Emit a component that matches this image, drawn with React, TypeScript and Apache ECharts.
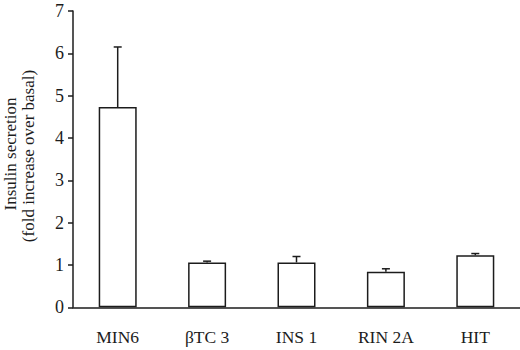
import React, { useEffect, useRef } from "react";
import * as echarts from "echarts";

const categories = ["MIN6", "βTC 3", "INS 1", "RIN 2A", "HIT"];
const means = [4.73, 1.06, 1.06, 0.84, 1.23];
const errTops = [6.15, 1.09, 1.2, 0.91, 1.27];
const yTicks = [0, 7, 1];
const yTitle = ["Insulin secretion", "(fold increase over basal)"];

export default function App() {
  const ref = useRef<HTMLDivElement>(null);
  useEffect(() => {
    document.body.style.margin = "0";
    const chart = echarts.init(ref.current!, null, { renderer: "svg" });
    const font = "'Liberation Serif', 'Times New Roman', serif";
    const ink = "#1c1c1c";
    chart.setOption({
      animation: false,
      backgroundColor: "#ffffff",
      grid: { left: 73, top: 11, width: 460, height: 296.3, containLabel: false },
      xAxis: {
        type: "category",
        data: categories,
        boundaryGap: true,
        axisLine: { lineStyle: { color: ink, width: 1.5 } },
        axisTick: { show: false },
        axisLabel: { color: ink, fontFamily: font, fontSize: 17.5, margin: 21 },
      },
      yAxis: {
        type: "value",
        min: yTicks[0],
        max: yTicks[1],
        interval: yTicks[2],
        splitLine: { show: false },
        axisLine: { show: true, lineStyle: { color: ink, width: 1.5 } },
        axisTick: { show: true, inside: false, length: 5, lineStyle: { color: ink, width: 1.5 } },
        axisLabel: { color: ink, fontFamily: font, fontSize: 18, margin: 9 },
      },
      graphic: [
        {
          type: "text",
          x: 10,
          y: 154,
          rotation: Math.PI / 2,
          style: {
            text: yTitle[0],
            fontFamily: font,
            fontSize: 17,
            fill: ink,
            textAlign: "center",
            textVerticalAlign: "middle",
          },
        },
        {
          type: "text",
          x: 28,
          y: 156,
          rotation: Math.PI / 2,
          style: {
            text: yTitle[1],
            fontFamily: font,
            fontSize: 17,
            fill: ink,
            textAlign: "center",
            textVerticalAlign: "middle",
          },
        },
      ],
      series: [
        {
          type: "bar",
          data: means,
          barWidth: 38,
          itemStyle: { color: "#ffffff", borderColor: ink, borderWidth: 1.5 },
          z: 3,
        },
        {
          type: "custom",
          data: categories.map((_, i) => [i, means[i], errTops[i]]),
          encode: { x: 0, y: 2 },
          z: 2,
          renderItem: (params: any, api: any) => {
            const i = api.value(0);
            const top = api.coord([i, api.value(2)]);
            const base = api.coord([i, api.value(1)]);
            const half = 4;
            return {
              type: "group",
              children: [
                {
                  type: "line",
                  shape: { x1: top[0], y1: base[1], x2: top[0], y2: top[1] },
                  style: { stroke: ink, lineWidth: 1.5 },
                },
                {
                  type: "line",
                  shape: { x1: top[0] - half, y1: top[1], x2: top[0] + half, y2: top[1] },
                  style: { stroke: ink, lineWidth: 1.5 },
                },
              ],
            };
          },
        },
      ],
    });
    return () => chart.dispose();
  }, []);
  return <div ref={ref} style={{ width: 520, height: 350 }} />;
}
